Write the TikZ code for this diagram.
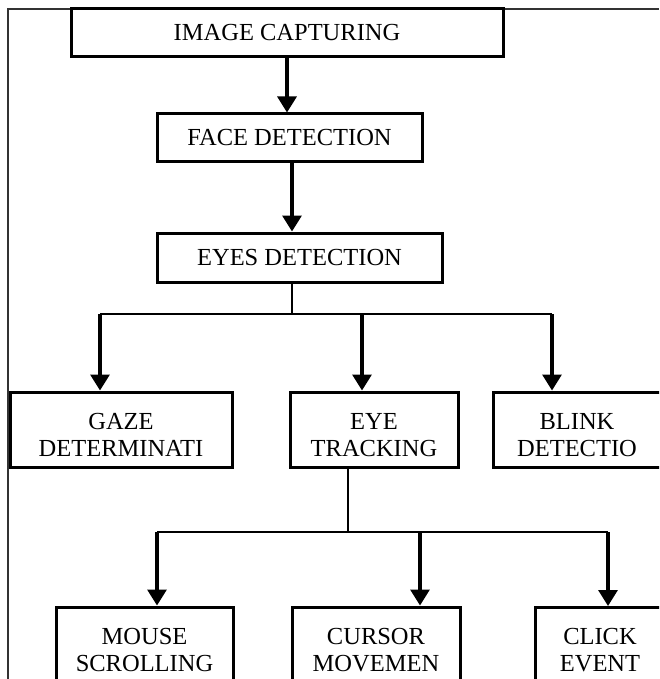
\documentclass[tikz,border=0pt]{standalone}
\usepackage{fontspec}
\setmainfont{Liberation Serif}
\usetikzlibrary{arrows.meta,calc}
\newcommand{\pushdown}{\rule{0pt}{27pt}}
\tikzset{
  every node/.style={font=\fontsize{24.5}{27}\selectfont,text=black},
  box/.style={draw=black,line width=3pt,align=center,inner sep=0,minimum height=75pt},
  arr/.style={-{Triangle[length=16pt,width=19pt]},line width=3.2pt,draw=black},
  link/.style={line width=2.6pt,draw=black},
  frame/.style={line width=1.8pt,draw=black!80}
}
\begin{document}
\begin{tikzpicture}[x=1pt,y=-1pt]
  \useasboundingbox (0,0) rectangle (659,679);
  \clip (0,0) rectangle (659,679);
  \draw[frame] (8,679) -- (8,9) -- (659,9);

  % main chain
  \node[box,minimum width=432pt,minimum height=48pt] (capture) at (287,33) {IMAGE CAPTURING};
  \node[box,minimum width=265pt,minimum height=48pt] (face) at (289.5,138) {FACE DETECTION};
  \node[box,minimum width=285pt,minimum height=49pt] (eyes) at (299.5,257.5) {EYES DETECTION};

  % second row
  \node[box,minimum width=222pt] (gaze) at (121,429.5) {\pushdown GAZE\\DETERMINATI};
  \node[box,minimum width=168pt] (track) at (374,429.5) {\pushdown EYE\\TRACKING};
  \node[box,minimum width=168pt] (blink) at (577,429.5) {\pushdown BLINK\\DETECTIO};

  % third row
  \node[box,minimum width=177pt] (mouse) at (144.5,644.5) {\pushdown MOUSE\\SCROLLING};
  \node[box,minimum width=168pt] (cursor) at (376,644.5) {\pushdown CURSOR\\MOVEMEN};
  \node[box,minimum width=130pt] (click) at (600,645) {\pushdown CLICK\\EVENT};

  \coordinate (c0) at (287,0);
  \draw[arr] (c0 |- capture.south) -- (c0 |- face.north);
  \coordinate (f1) at (292,0);
  \draw[arr] (f1 |- face.south) -- (f1 |- eyes.north);

  % split below eyes detection
  \coordinate (s1) at (292,314);
  \coordinate (g1) at (100,314);
  \coordinate (t1) at (362,314);
  \coordinate (b1) at (552,314);
  \draw[link] (s1 |- eyes.south) -- (s1);
  \draw[link] (g1) -- (b1);
  \draw[arr] (g1) -- (g1 |- gaze.north);
  \draw[arr] (t1) -- (t1 |- track.north);
  \draw[arr] (b1) -- (b1 |- blink.north);

  % split below eye tracking
  \coordinate (s2) at (348,532);
  \coordinate (m2) at (157,532);
  \coordinate (c2) at (420,532);
  \coordinate (k2) at (608,532);
  \draw[link] (s2 |- track.south) -- (s2);
  \draw[link] (m2) -- (k2);
  \draw[arr] (m2) -- (m2 |- mouse.north);
  \draw[arr] (c2) -- (c2 |- cursor.north);
  \draw[arr] (k2) -- (k2 |- click.north);
\end{tikzpicture}
\end{document}
